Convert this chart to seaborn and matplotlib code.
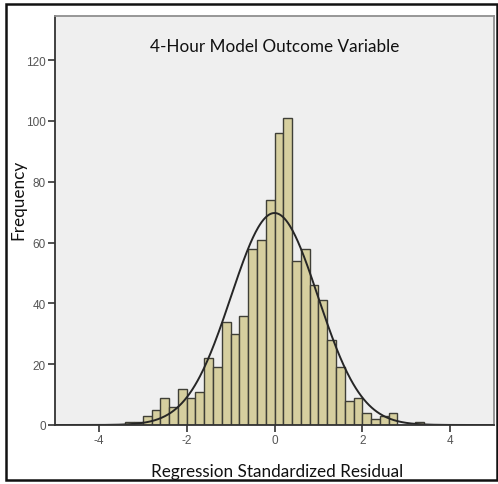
import numpy as np
import pandas as pd
import seaborn as sns
import matplotlib.pyplot as plt
from matplotlib.patches import Rectangle

# ---- data ----
bin_left = [-3.4, -3.2, -3.0, -2.8, -2.6, -2.4, -2.2, -2.0, -1.8, -1.6, -1.4, -1.2,
            -1.0, -0.8, -0.6, -0.4, -0.2, 0.0, 0.2, 0.4, 0.6, 0.8, 1.0, 1.2,
            1.4, 1.6, 1.8, 2.0, 2.2, 2.4, 2.6, 2.8, 3.0, 3.2]
counts = [1, 1, 3, 5, 9, 6, 12, 9, 11, 22, 19, 34,
          30, 36, 58, 61, 74, 96, 101, 54, 58, 46, 41, 28,
          19, 8, 9, 4, 2, 3, 4, 0, 0, 1]
bin_width = 0.2
fit_mean = 0.0
fit_sd = 0.99
x_ticks = [-4, -2, 0, 2, 4]
y_ticks = [0, 20, 40, 60, 80, 100, 120]
title = "4-Hour Model Outcome Variable"
x_label = "Regression Standardized Residual"
y_label = "Frequency"

df = pd.DataFrame({"left": bin_left, "count": counts})
df["center"] = df["left"] + bin_width / 2
edges = list(df["left"]) + [df["left"].iloc[-1] + bin_width]
n_total = df["count"].sum()

sns.set_style("white")
plt.rcParams["font.family"] = ["Lato", "DejaVu Sans"]

fig = plt.figure(figsize=(4.98, 4.85), dpi=100)
ax = fig.add_axes([55 / 498, 1 - 426 / 485, (494 - 55) / 498, (426 - 17) / 485])
ax.set_facecolor("#efefef")

sns.histplot(data=df, x="center", weights="count", bins=edges, stat="count",
             color="#d6cf9f", edgecolor="#3f3f37", linewidth=1.0, alpha=1.0, ax=ax)

xs = np.linspace(-5, 5, 500)
ys = n_total * bin_width * np.exp(-0.5 * ((xs - fit_mean) / fit_sd) ** 2) / (fit_sd * np.sqrt(2 * np.pi))
sns.lineplot(x=xs, y=ys, color="#262626", linewidth=1.4, ax=ax)

ax.set_xlim(-5, 5)
ax.set_ylim(0, 134.5)
ax.set_xticks(x_ticks)
ax.set_yticks(y_ticks)
ax.set_xticklabels([str(t) for t in x_ticks], family="Liberation Sans", fontsize=8.5, color="#555555")
ax.set_yticklabels([str(t) for t in y_ticks], family="Liberation Sans", fontsize=8.5, color="#555555")
ax.tick_params(axis="both", which="major", direction="out", length=5, width=1.2,
               color="#333333", pad=1.5, left=True, bottom=True)
ax.set_xlabel("")
ax.set_ylabel("")

for side in ["left", "bottom"]:
    ax.spines[side].set_color("#333333")
    ax.spines[side].set_linewidth(1.3)
for side in ["top", "right"]:
    ax.spines[side].set_color("#8f8f8f")
    ax.spines[side].set_linewidth(1.3)

ax.text(0, 124.6, title, ha="center", va="center", fontsize=12.3, color="#111111")
fig.text(277 / 498, 1 - 472 / 485, x_label, ha="center", va="center", fontsize=12.3, color="#111111")
fig.text(18 / 498, 1 - 200 / 485, y_label, ha="center", va="center", rotation=90, fontsize=12.3, color="#111111")

fig.patches.append(Rectangle((6 / 498, 4 / 485), 491 / 498, 476 / 485, transform=fig.transFigure,
                             fill=False, edgecolor="#111111", linewidth=1.8))

fig.savefig("out.png", dpi=100, facecolor="white")
